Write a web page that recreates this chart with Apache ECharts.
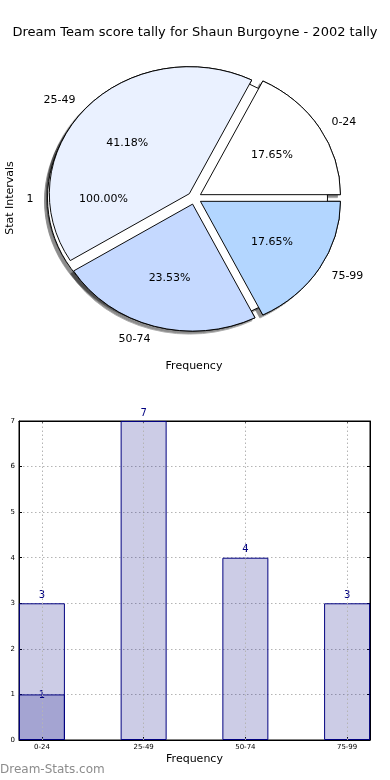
<!DOCTYPE html>
<html><head><meta charset="utf-8">
<script src="https://cdn.jsdelivr.net/npm/echarts@6/dist/echarts.min.js"></script>
<style>
html,body{margin:0;padding:0;background:#fff}
#wrap{position:relative;width:390px;height:780px;overflow:hidden}
#pie{position:absolute;left:0;top:0;width:390px;height:400px}
#c{position:absolute;left:0;top:0;width:390px;height:780px}
</style>
</head><body><div id="wrap"><div id="pie"></div><div id="c"></div></div>
<script>
const titleText = 'Dream Team score tally for Shaun Burgoyne - 2002 tally';
const categories = ['0-24', '25-49', '50-74', '75-99'];
const counts = [3, 7, 4, 3];
const overlayIndex = [0];
const overlayCounts = [1];
const pieColors = ['#ffffff', '#eaf1ff', '#c5d9ff', '#b3d6ff'];
const totalNames = ['1'];
const totalValues = [1];
const yTicks = [0, 1, 2, 3, 4, 5, 6, 7];

const FONT = 'DejaVu Sans';
const CX = 194.5, CY = 198, R = 140, RY = 127, EXPLODE = 7;
const K = RY / R;
const sum = counts.reduce((a, b) => a + b, 0);
const totalSum = totalValues.reduce((a, b) => a + b, 0);
const pct = (v, s) => (v / s * 100).toFixed(2) + '%';

// mid angles (counter-clockwise from 3 o'clock) derived from the data
function midAngles(vals) {
  const s = vals.reduce((a, b) => a + b, 0);
  let acc = 0;
  return vals.map(v => { const m = (acc + v / 2) / s * 2 * Math.PI; acc += v; return m; });
}
const tallyMid = midAngles(counts);
const totalMid = midAngles(totalValues);

// elliptical pie: shapes drawn in a vertically scaled layer
const pieEl = document.getElementById('pie');
pieEl.style.transformOrigin = CX + 'px ' + CY + 'px';
pieEl.style.transform = 'scaleY(' + K + ')';

const pieBase = {
  type: 'pie', center: [CX, CY], startAngle: 0, clockwise: false,
  avoidLabelOverlap: false, emphasis: { disabled: true }, animation: false,
  labelLine: { show: false, length: 10, length2: 0 },
  minShowLabelAngle: 0
};
const shadow = { shadowColor: 'rgba(0,0,0,0.45)', shadowBlur: 1, shadowOffsetX: -3, shadowOffsetY: 3 };
const tallyData = () => categories.map((c, i) => ({ name: c, value: counts[i], selected: true, itemStyle: { color: pieColors[i] } }));

const pieChart = echarts.init(pieEl, null, { renderer: 'svg' });
pieChart.setOption({
  animation: false,
  series: [
    // shadow layer of the tally wedges
    Object.assign({}, pieBase, {
      radius: [0, R], z: 1, silent: true, selectedMode: 'multiple', selectedOffset: EXPLODE,
      data: tallyData(),
      itemStyle: Object.assign({ borderColor: '#000', borderWidth: 1 }, shadow),
      label: { show: false }
    }),
    // single-slice (100%) pie
    Object.assign({}, pieBase, {
      radius: [0, R], z: 2, silent: true, selectedMode: 'multiple', selectedOffset: EXPLODE,
      data: totalNames.map((n, i) => ({ name: n, value: totalValues[i], selected: true })),
      itemStyle: Object.assign({ color: '#fff', borderColor: '#000', borderWidth: 1 }, shadow),
      label: { show: false }
    }),
    // tally wedges
    Object.assign({}, pieBase, {
      radius: [0, R], z: 3, silent: true, selectedMode: 'multiple', selectedOffset: EXPLODE,
      data: tallyData(),
      itemStyle: { borderColor: '#000', borderWidth: 1 },
      label: { show: false }
    })
  ]
});

// labels: placed on the same (exploded) ellipse, text itself kept unscaled
function ellipseLayout(mids, rf, outside) {
  return p => {
    const m = mids[p.dataIndex];
    const c = Math.cos(m), s = Math.sin(m);
    const d = rf * R + EXPLODE;
    return {
      x: CX + c * d,
      y: CY + 1 - s * d * K,
      align: outside ? (c > 0 ? 'left' : 'right') : 'center',
      verticalAlign: 'middle'
    };
  };
}
const labelText = { fontSize: 11, color: '#000', fontFamily: FONT };
const ghost = { color: 'rgba(0,0,0,0)', borderWidth: 0 };

const chart = echarts.init(document.getElementById('c'), null, { renderer: 'canvas' });
chart.setOption({
  backgroundColor: 'transparent',
  animation: false,
  textStyle: { fontFamily: FONT },
  title: {
    text: titleText, left: 'center', top: 21,
    textStyle: { fontFamily: FONT, fontSize: 13, fontWeight: 'normal', color: '#000' }
  },
  graphic: [
    { type: 'text', x: 10, y: 198, rotation: Math.PI / 2,
      style: { text: 'Stat Intervals', font: '11px "DejaVu Sans"', fill: '#000', align: 'center', verticalAlign: 'middle' } },
    { type: 'text', x: 194, y: 366,
      style: { text: 'Frequency', font: '11px "DejaVu Sans"', fill: '#000', align: 'center', verticalAlign: 'middle' } },
    { type: 'text', x: 0, y: 770,
      style: { text: 'Dream-Stats.com', font: '12px "DejaVu Sans"', fill: '#8c8c8c', align: 'left', verticalAlign: 'middle' } }
  ],
  grid: { left: 19, right: 20, top: 421, bottom: 40, show: true, borderColor: '#000', borderWidth: 1, backgroundColor: 'transparent' },
  xAxis: [{
    type: 'value', min: -0.225, max: 3.225, position: 'bottom',
    axisLine: { show: true, onZero: false, lineStyle: { color: '#000' } },
    axisTick: { show: true, inside: true, length: 3, customValues: categories.map((c, i) => i), lineStyle: { color: '#000' } },
    axisLabel: { customValues: categories.map((c, i) => i), formatter: v => categories[Math.round(v)], fontSize: 7, color: '#000', margin: 4, fontFamily: FONT },
    splitLine: { show: false },
    name: 'Frequency', nameLocation: 'middle', nameGap: 14,
    nameTextStyle: { fontSize: 11, color: '#000', fontFamily: FONT }
  }, {
    type: 'value', min: -0.225, max: 3.225, position: 'top',
    axisLine: { show: true, onZero: false, lineStyle: { color: '#000' } },
    axisTick: { show: true, inside: true, length: 3, customValues: categories.map((c, i) => i), lineStyle: { color: '#000' } },
    axisLabel: { show: false }, splitLine: { show: false }
  }],
  yAxis: [{
    type: 'value', min: yTicks[0], max: yTicks[yTicks.length - 1], interval: 1, position: 'left',
    axisLine: { show: true, onZero: false, lineStyle: { color: '#000' } },
    axisTick: { show: true, inside: true, length: 3, lineStyle: { color: '#000' } },
    axisLabel: { fontSize: 7, color: '#000', margin: 4, fontFamily: FONT },
    splitLine: { show: true, lineStyle: { type: [1.5, 2.5], color: '#b4b4b4', width: 1 } }
  }, {
    type: 'value', min: yTicks[0], max: yTicks[yTicks.length - 1], interval: 1, position: 'right',
    axisLine: { show: true, onZero: false, lineStyle: { color: '#000' } },
    axisTick: { show: true, inside: true, length: 3, lineStyle: { color: '#000' } },
    axisLabel: { show: false }, splitLine: { show: false }
  }],
  series: [
    Object.assign({}, pieBase, {
      radius: [0, R], silent: true, data: totalNames.map((n, i) => ({ name: n, value: totalValues[i] })),
      itemStyle: ghost, labelLayout: ellipseLayout(totalMid, 1.1, true),
      label: Object.assign({ show: true, position: 'outside', formatter: '{b}' }, labelText)
    }),
    Object.assign({}, pieBase, {
      radius: [0, R], silent: true, data: totalNames.map((n, i) => ({ name: n, value: totalValues[i] })),
      itemStyle: ghost, labelLayout: ellipseLayout(totalMid, 0.6, false),
      label: Object.assign({ show: true, position: 'inside', formatter: p => pct(p.value, totalSum) }, labelText)
    }),
    Object.assign({}, pieBase, {
      radius: [0, R], silent: true, data: categories.map((c, i) => ({ name: c, value: counts[i] })),
      itemStyle: ghost, labelLayout: ellipseLayout(tallyMid, 1.1, true),
      label: Object.assign({ show: true, position: 'outside', formatter: '{b}' }, labelText)
    }),
    Object.assign({}, pieBase, {
      radius: [0, R], silent: true, data: categories.map((c, i) => ({ name: c, value: counts[i] })),
      itemStyle: ghost, labelLayout: ellipseLayout(tallyMid, 0.6, false),
      label: Object.assign({ show: true, position: 'inside', formatter: p => pct(p.value, sum) }, labelText)
    }),
    {
      type: 'bar', name: 'counts', barWidth: 46, barGap: '-100%', z: 2,
      xAxisIndex: 0, yAxisIndex: 0,
      data: counts.map((v, i) => [i, v]),
      itemStyle: { color: 'rgba(0,0,128,0.2)', borderColor: '#000080', borderWidth: 1 },
      label: { show: true, position: 'top', distance: 3, fontSize: 10, color: '#000080', fontFamily: FONT, formatter: p => String(p.value[1]) },
      markLine: {
        silent: true, symbol: ['none', 'none'], animation: false,
        label: { show: false },
        lineStyle: { type: [1.5, 2.5], color: '#b4b4b4', width: 1 },
        emphasis: { disabled: true },
        data: categories.map((c, i) => ({ xAxis: i }))
      }
    },
    {
      type: 'bar', name: 'overlay', barWidth: 46, barGap: '-100%', z: 3,
      xAxisIndex: 0, yAxisIndex: 0,
      data: overlayIndex.map((idx, k) => [idx, overlayCounts[k]]),
      itemStyle: { color: 'rgba(0,0,128,0.2)', borderColor: '#000080', borderWidth: 1 },
      label: { show: true, position: 'top', distance: 3, offset: [0, 9], fontSize: 10, color: '#000080', fontFamily: FONT, formatter: p => String(p.value[1]) }
    }
  ]
});
</script>
</body></html>
